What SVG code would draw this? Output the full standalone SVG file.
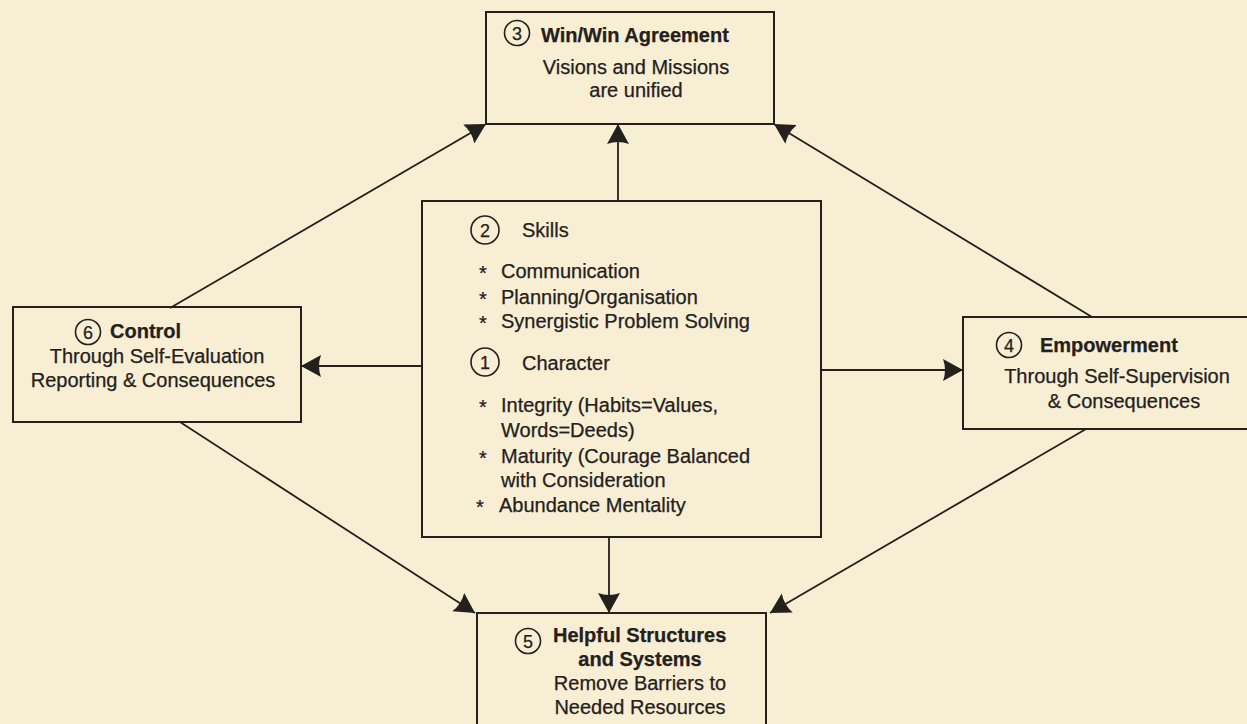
<svg xmlns="http://www.w3.org/2000/svg" width="1247" height="724" viewBox="0 0 1247 724">
  <style>
    .box { fill: none; stroke: #24201c; stroke-width: 2; }
    .link { fill: none; stroke: #24201c; stroke-width: 1.8; }
    .num { fill: none; stroke: #24201c; stroke-width: 1.6; }
    text { font-family: "Liberation Sans", Arial, sans-serif; fill: #24201c; stroke: #24201c; stroke-width: 0.25; }
    .t { font-size: 20px; font-weight: bold; }
    .b { font-size: 20px; }
    .d { font-size: 18px; text-anchor: middle; }
    .c { text-anchor: middle; }
  </style>
  <defs>
    <marker id="head" viewBox="0 0 20 22" refX="20" refY="11" markerWidth="20" markerHeight="22" markerUnits="userSpaceOnUse" orient="auto">
      <path d="M20,11 L0,0 Q4,11 0,22 Z" fill="#24201c"/>
    </marker>
  </defs>

  <rect width="1247" height="724" fill="#f7eed4"/>

  <!-- connectors -->
  <g id="connectors">
    <line class="link" x1="618" y1="201" x2="618" y2="124" marker-end="url(#head)"/>
    <line class="link" x1="170" y1="308" x2="486" y2="124" marker-end="url(#head)"/>
    <line class="link" x1="1092" y1="317" x2="774" y2="124" marker-end="url(#head)"/>
    <line class="link" x1="422" y1="366" x2="301" y2="366" marker-end="url(#head)"/>
    <line class="link" x1="821" y1="370" x2="963" y2="370" marker-end="url(#head)"/>
    <line class="link" x1="180" y1="422" x2="475" y2="613" marker-end="url(#head)"/>
    <line class="link" x1="609" y1="537" x2="609" y2="613" marker-end="url(#head)"/>
    <line class="link" x1="1086" y1="429" x2="770" y2="613" marker-end="url(#head)"/>
  </g>

  <!-- 3: Win/Win Agreement -->
  <g id="win-win">
    <rect class="box" x="486" y="12" width="288" height="112"/>
    <circle class="num" cx="517" cy="33" r="12.5"/>
    <text class="d" x="517" y="39.5">3</text>
    <text class="t" x="541" y="42">Win/Win Agreement</text>
    <text class="b c" x="636" y="74">Visions and Missions</text>
    <text class="b c" x="636" y="97">are unified</text>
  </g>

  <!-- 1 + 2: Character and Skills -->
  <g id="skills-character">
    <rect class="box" x="422" y="201" width="399" height="336"/>
    <circle class="num" cx="485" cy="230" r="14"/>
    <text class="d" x="485" y="236.5">2</text>
    <text class="b" x="522" y="237">Skills</text>
    <text class="b" x="479" y="280">*</text>
    <text class="b" x="501" y="278">Communication</text>
    <text class="b" x="479" y="306">*</text>
    <text class="b" x="501" y="304">Planning/Organisation</text>
    <text class="b" x="479" y="330">*</text>
    <text class="b" x="501" y="328">Synergistic Problem Solving</text>
    <circle class="num" cx="485" cy="362" r="14"/>
    <text class="d" x="485" y="368.5">1</text>
    <text class="b" x="522" y="370">Character</text>
    <text class="b" x="479" y="414">*</text>
    <text class="b" x="501" y="412">Integrity (Habits=Values,</text>
    <text class="b" x="501" y="437">Words=Deeds)</text>
    <text class="b" x="479" y="465">*</text>
    <text class="b" x="501" y="463">Maturity (Courage Balanced</text>
    <text class="b" x="501" y="487">with Consideration</text>
    <text class="b" x="476" y="514">*</text>
    <text class="b" x="499" y="512">Abundance Mentality</text>
  </g>

  <!-- 6: Control -->
  <g id="control">
    <rect class="box" x="13" y="307" width="288" height="115"/>
    <circle class="num" cx="88" cy="332" r="12.5"/>
    <text class="d" x="88" y="338.5">6</text>
    <text class="t" x="110" y="338">Control</text>
    <text class="b c" x="157" y="363">Through Self-Evaluation</text>
    <text class="b c" x="153" y="387">Reporting &amp; Consequences</text>
  </g>

  <!-- 4: Empowerment -->
  <g id="empowerment">
    <rect class="box" x="963" y="317" width="300" height="112"/>
    <circle class="num" cx="1009" cy="345" r="12.5"/>
    <text class="d" x="1009" y="351.5">4</text>
    <text class="t" x="1040" y="352">Empowerment</text>
    <text class="b c" x="1117" y="383">Through Self-Supervision</text>
    <text class="b c" x="1124" y="408">&amp; Consequences</text>
  </g>

  <!-- 5: Helpful Structures and Systems -->
  <g id="structures">
    <rect class="box" x="477" y="613" width="289" height="130"/>
    <circle class="num" cx="528" cy="641" r="12.5"/>
    <text class="d" x="528" y="647.5">5</text>
    <text class="t" x="553" y="642">Helpful Structures</text>
    <text class="t c" x="640" y="666">and Systems</text>
    <text class="b c" x="640" y="690">Remove Barriers to</text>
    <text class="b c" x="640" y="714">Needed Resources</text>
  </g>
</svg>
